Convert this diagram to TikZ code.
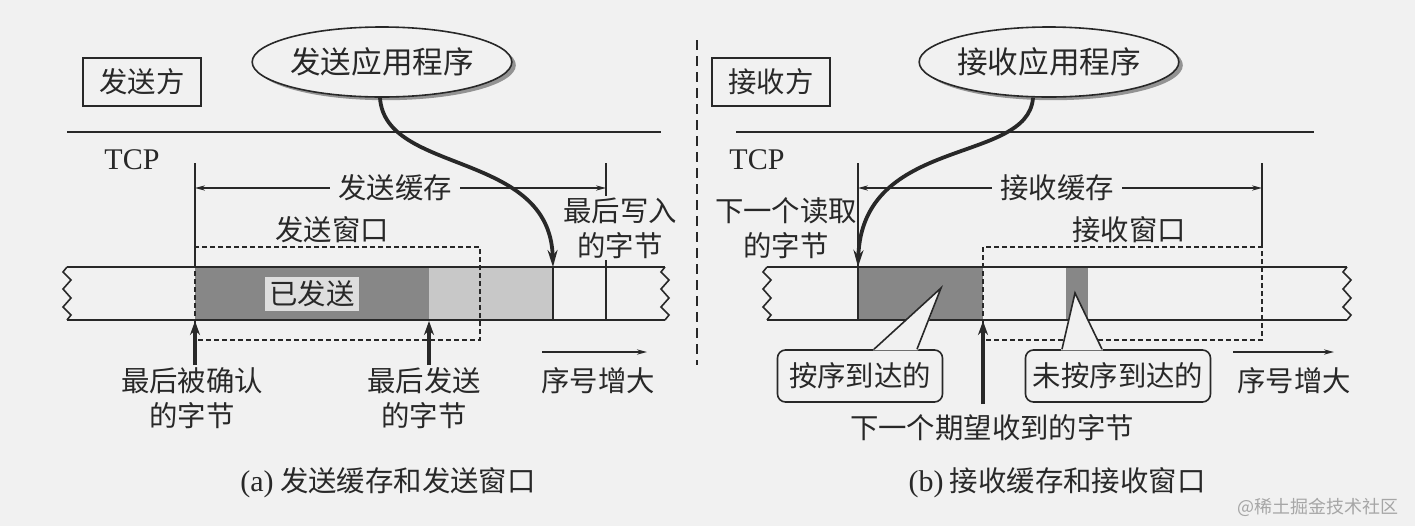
\documentclass[tikz,border=0pt]{standalone}
\usepackage{fontspec}
\setmainfont{Liberation Serif}
\newfontfamily\cjk{Noto Sans CJK SC}
\usetikzlibrary{arrows.meta,shapes.geometric,shadows}
\definecolor{bgc}{RGB}{241,241,241}
\definecolor{darkfill}{RGB}{135,135,135}
\definecolor{lightfill}{RGB}{200,200,200}
\definecolor{labfill}{RGB}{222,222,222}
\definecolor{ink}{RGB}{40,40,40}
\begin{document}
\begin{tikzpicture}[x=0.5pt,y=-0.5pt,
  txt/.style={font=\cjk\fontsize{14.2}{17.5}\selectfont, text=ink, inner sep=1pt, align=center},
  lat/.style={font=\rmfamily\fontsize{15}{18}\selectfont, text=ink, inner sep=1pt},
  sidebox/.style={txt, draw=ink, line width=1.4pt, minimum width=59pt, minimum height=24pt},
  appell/.style={txt, font=\cjk\fontsize{15.3}{18}\selectfont, ellipse, draw=ink, line width=0.8pt, fill=bgc, minimum width=103pt, minimum height=35pt, inner sep=0pt,
     drop shadow={shadow xshift=2pt, shadow yshift=-1.6pt, fill=gray!85, opacity=1}},
  thin/.style={draw=ink, line width=0.9pt},
  dimarrow/.style={ink, line width=0.8pt, {Stealth[length=5pt,width=2.6pt]}-{Stealth[length=5pt,width=2.6pt]}},
  seqarrow/.style={ink, line width=0.9pt, -{Stealth[length=5pt,width=2.6pt]}},
  upar/.style={ink, line width=1.9pt, -{Stealth[length=7pt,width=5pt]}},
  bigcurve/.style={ink, line width=1.9pt, -{Stealth[length=8.5pt,width=5pt]}},
  winbox/.style={draw=ink, line width=0.7pt, dash pattern=on 2.5pt off 1.5pt},
  callout/.style={txt, draw=ink, line width=0.8pt, fill=bgc, rounded corners=4pt, minimum height=26pt, inner sep=0pt},
  pics/zz/.style={code={\draw[ink,line width=0.8pt] (0,0) -- (-4,5) -- (4,13) -- (-4,22) -- (4,31) -- (-4,40) -- (4,48) -- (0,53);}}
]
\fill[bgc] (0,0) rectangle (1415,526);
\useasboundingbox (0,0) rectangle (1415,526);

% separator
\coordinate (sepT) at (697,40);
\coordinate (sepB) at (697,365);
\draw[ink, line width=1.2pt, dash pattern=on 5pt off 3pt] (sepT) -- (sepB);

%%%%%%%%%%%%%%%% LEFT: sender
\node[sidebox] (sender) at (142,82) {发送方};
\node[appell] (sapp) at (382,62) {发送应用程序};
\coordinate (hlL1) at (67,132); \coordinate (hlR1) at (661,132);
\draw[thin] (hlL1) -- (hlR1);
\node[lat] (tcp1) at (132,160) {TCP};

% bar fills
\fill[darkfill] (195,267) rectangle (429,320);
\fill[lightfill] (429,267) rectangle (553,320);
% bar lines
\coordinate (barL1t) at (67,267); \coordinate (barR1t) at (665,267);
\coordinate (barL1b) at (67,320); \coordinate (barR1b) at (665,320);
\draw[thin] (barL1t) -- (barR1t);
\draw[thin] (barL1b) -- (barR1b);
\pic at (barL1t) {zz};
\pic at (barR1t) {zz};
% window
\draw[winbox] (195,247) rectangle (480,340);
% verticals
\coordinate (sbL) at (195,163); \coordinate (sbR) at (606,163);
\coordinate (sbLb) at (195,267); \coordinate (sbRb) at (606,320);
\draw[thin] (sbL) -- (sbLb);
\draw[thin] (sbR) -- (sbRb);
\coordinate (lwT) at (553,267); \coordinate (lwB) at (553,320);
\draw[thin] (lwT) -- (lwB);
% send buffer
\draw[dimarrow] (sbL |- 0,188) -- (sbR |- 0,188);
\node[txt, fill=bgc, inner xsep=4pt] (sbuf) at (395,188) {发送缓存};
\node[txt] (swin) at (332,230) {发送窗口};
\node[txt, fill=bgc] (lastw) at (620,228) {最后写入\\的字节};
\node[txt, fill=labfill, inner sep=2pt] (sent) at (312,294) {已发送};
% curve from app
\draw[bigcurve] ([xshift=-1pt]sapp.south) .. controls (385,175) and (550,150) .. (lwT);
% bottom labels
\node[txt] (lack) at (192,398) {最后被确认\\的字节};
\node[txt] (lsent) at (424,398) {最后发送\\的字节};
\coordinate (ackpt) at (195,321);
\coordinate (sentpt) at (429,321);
\draw[upar] (ackpt |- lack.north) -- (ackpt);
\draw[upar] (sentpt |- lsent.north) -- (sentpt);
\coordinate (seq1a) at (542,352); \coordinate (seq1b) at (647,352);
\draw[seqarrow] (seq1a) -- (seq1b);
\node[txt] (seq1) at (598,381) {序号增大};
\node[txt] (capa) at (388,483) {{\rmfamily\fontsize{15}{18}\selectfont (a)} 发送缓存和发送窗口};

%%%%%%%%%%%%%%%% RIGHT: receiver
\node[sidebox] (recv) at (771,82) {接收方};
\node[appell] (rapp) at (1049,62) {接收应用程序};
\coordinate (hlL2) at (736,132); \coordinate (hlR2) at (1314,132);
\draw[thin] (hlL2) -- (hlR2);
\node[lat] (tcp2) at (757,160) {TCP};

\fill[darkfill] (858,267) rectangle (983,320);
\fill[darkfill] (1066,267) rectangle (1088,320);
\coordinate (barL2t) at (767,267); \coordinate (barR2t) at (1347,267);
\coordinate (barL2b) at (767,320); \coordinate (barR2b) at (1347,320);
\draw[thin] (barL2t) -- (barR2t);
\draw[thin] (barL2b) -- (barR2b);
\pic at (barL2t) {zz};
\pic at (barR2t) {zz};
\draw[winbox] (983,247) rectangle (1262,340);
\coordinate (rbL) at (858,163); \coordinate (rbR) at (1262,163);
\coordinate (rbLb) at (858,320); \coordinate (rbRb) at (1262,247);
\coordinate (rdT) at (858,267);
\draw[thin] (rbL) -- (rbLb);
\draw[thin] (rbR) -- (rbRb);
\draw[dimarrow] (rbL |- 0,188) -- (rbR |- 0,188);
\node[txt, fill=bgc, inner xsep=4pt] (rbuf) at (1057,188) {接收缓存};
\node[txt] (rwin) at (1129,230) {接收窗口};
\node[txt] (nread) at (786,228) {下一个读取\\的字节};
\draw[bigcurve] ([xshift=-8pt]rapp.south) .. controls (1028,165) and (862,135) .. (rdT);

% callouts
\node[callout, minimum width=82.5pt] (inord) at (860,376) {按序到达的};
\coordinate (tipA) at (941,288);
\fill[bgc] ([xshift=6.5pt,yshift=-0.6pt]inord.north) -- (tipA) -- ([xshift=29pt,yshift=-0.6pt]inord.north) -- cycle;
\draw[ink, line width=0.8pt] ([xshift=7pt]inord.north) -- (tipA) -- ([xshift=28.5pt]inord.north);
\node[callout, minimum width=92.5pt] (outord) at (1118,376) {未按序到达的};
\coordinate (tipB) at (1075,293);
\fill[bgc] ([xshift=-28.5pt,yshift=-0.6pt]outord.north) -- (tipB) -- ([xshift=-7.5pt,yshift=-0.6pt]outord.north) -- cycle;
\draw[ink, line width=0.8pt] ([xshift=-28pt]outord.north) -- (tipB) -- ([xshift=-8pt]outord.north);

\node[txt] (nexp) at (992,428) {下一个期望收到的字节};
\coordinate (exppt) at (983,321);
\draw[upar] (exppt |- 0,404) -- (exppt);
\coordinate (seq2a) at (1233,352); \coordinate (seq2b) at (1334,352);
\draw[seqarrow] (seq2a) -- (seq2b);
\node[txt] (seq2) at (1294,381) {序号增大};
\node[txt] (capb) at (1057,483) {{\rmfamily\fontsize{15}{18}\selectfont (b)} 接收缓存和接收窗口};

\node[font=\cjk\fontsize{9}{10}\selectfont, text=gray!70] (wm) at (1318,507) {@稀土掘金技术社区};
\end{tikzpicture}
\end{document}
